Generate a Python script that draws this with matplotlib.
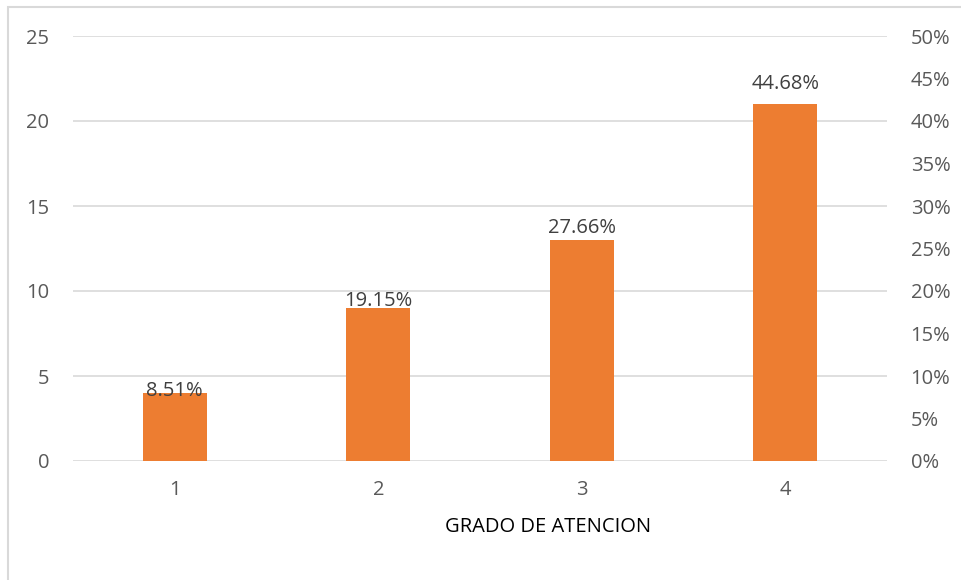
import matplotlib.pyplot as plt
from matplotlib.patches import Rectangle

plt.rcParams['font.family'] = ['Open Sans', 'DejaVu Sans']

# grado de atencion
categorias = [1, 2, 3, 4]
frecuencia = [4, 9, 13, 21]
pct_valores = [0.0851, 0.1915, 0.2766, 0.4468]
porcentaje = ['8.51%', '19.15%', '27.66%', '44.68%']

naranja = '#ed7d31'
gris = '#595959'

fig = plt.figure(figsize=(9.61, 5.80), dpi=100)
ax = fig.add_axes([73/961, 119/580, 814/961, 425/580])

ax.bar(categorias, frecuencia, width=0.315, color=naranja, zorder=3)

ax.set_xlim(0.5, 4.5)
ax.set_ylim(0, 25)
ax.set_yticks(range(0, 26, 5))
ax.set_xticks(categorias)
ax.yaxis.grid(True, color='#d9d9d9', lw=1.2, zorder=0)
for s in ax.spines.values():
    s.set_visible(False)
ax.tick_params(length=0, labelsize=14.5, colors=gris)
ax.tick_params(axis='y', pad=17)
ax.tick_params(axis='x', pad=14)

ax2 = ax.twinx()
ax2.set_ylim(0, 0.5)
ax2.set_yticks([i * 0.05 for i in range(11)])
ax2.set_yticklabels([f'{i*5}%' for i in range(11)])
for s in ax2.spines.values():
    s.set_visible(False)
ax2.tick_params(length=0, labelsize=14.5, colors=gris, pad=17)

# etiquetas de porcentaje sobre el eje secundario
for x, p, t in zip(categorias, pct_valores, porcentaje):
    ax2.text(x, p, t, ha='center', va='center_baseline', fontsize=14.5, color='#404040', zorder=4)

fig.text(548/961, 1 - 527/580, 'GRADO DE ATENCION', ha='center', va='center', fontsize=14.5, color='black')

# borde del grafico
fig.patches.append(Rectangle((8/961, -0.01), 1.0, 1 - 7/580 + 0.01, transform=fig.transFigure,
                             fill=False, edgecolor='#d9d9d9', lw=1.5))

fig.savefig('out.png', dpi=100)
